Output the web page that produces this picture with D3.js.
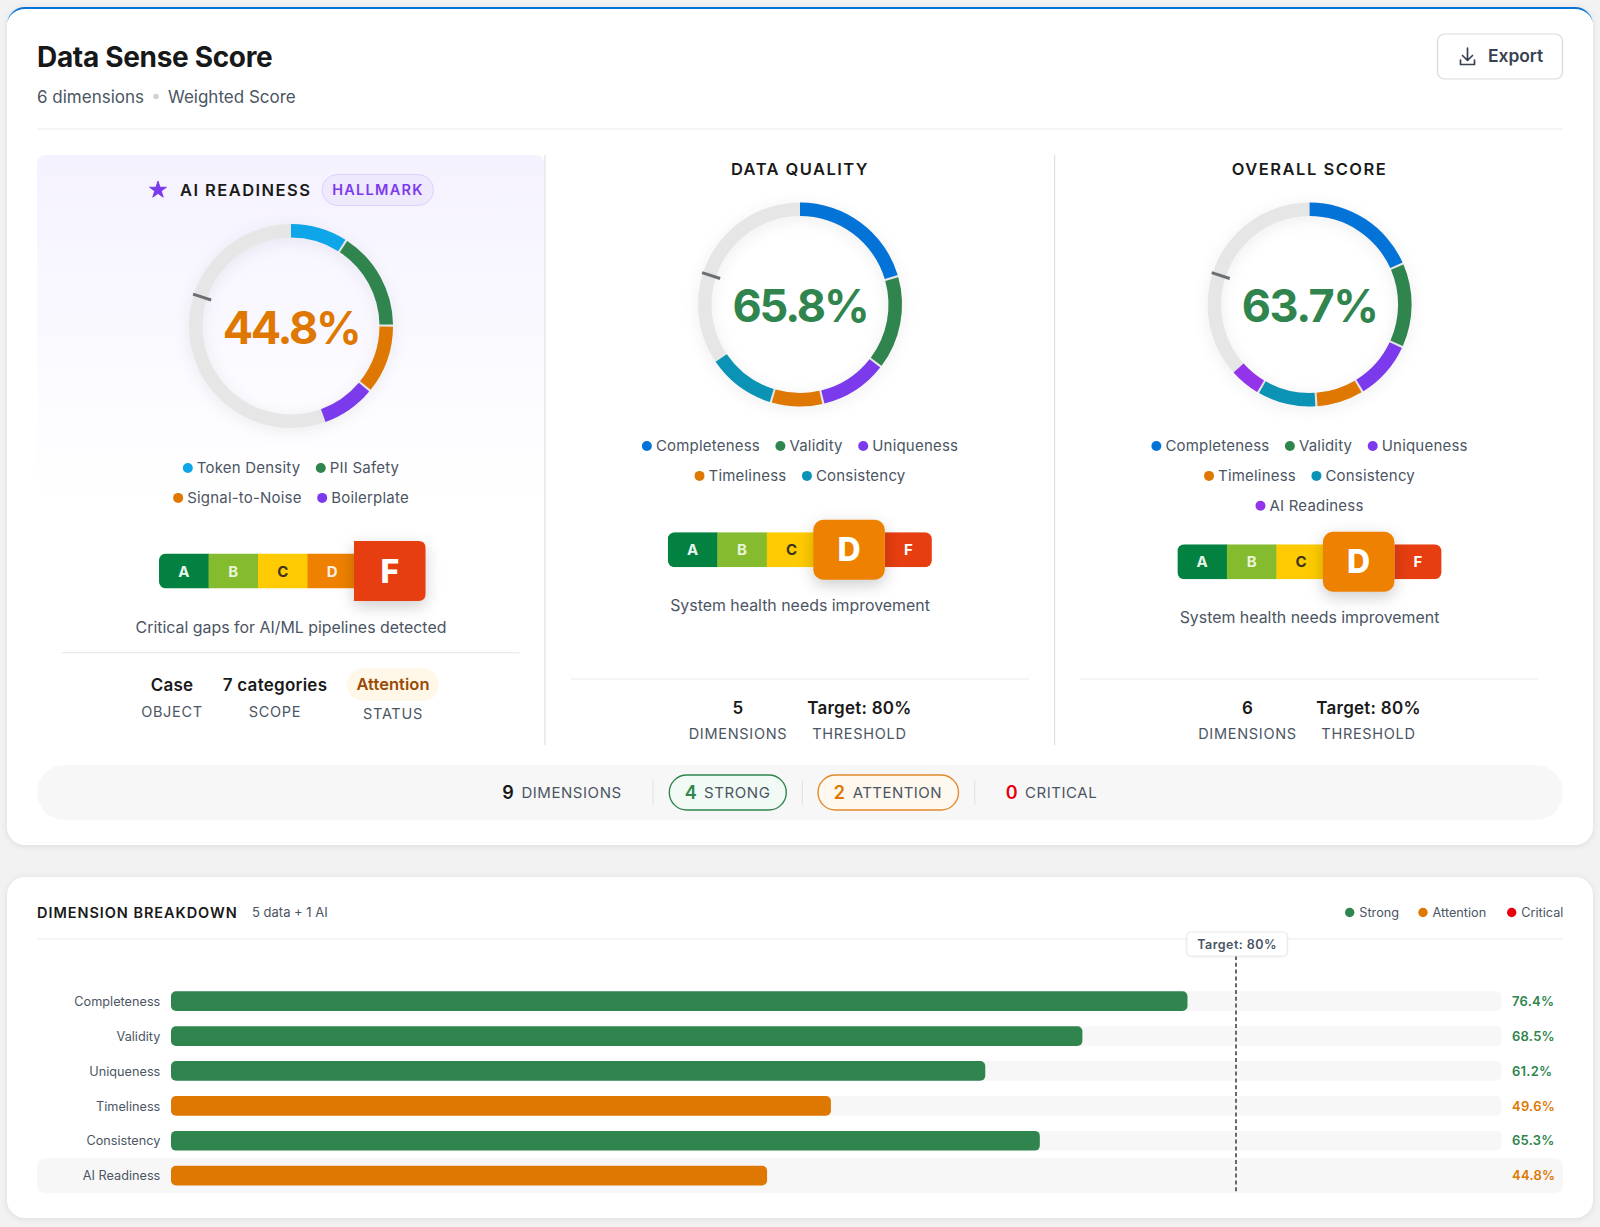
<!DOCTYPE html>
<html>
<head>
<meta charset="utf-8">
<title>Data Sense Score</title>
<script src="https://cdn.jsdelivr.net/npm/d3@7"></script>
<style>
  html, body { margin: 0; padding: 0; background: #f2f2f2; }
  svg { display: block; }
  text { font-family: Inter, "Noto Sans", sans-serif; }
</style>
</head>
<body>
<svg id="chart" width="1600" height="1227"></svg>
<script>
// values
var aiNames = ['Token Density', 'PII Safety', 'Signal-to-Noise', 'Boilerplate'];
var aiValues = [9.3, 15.8, 11.0, 8.4];
var aiColors = ['#0ea5e9', '#2f854d', '#de7802', '#7c3aed'];

var qualityNames = ['Completeness', 'Validity', 'Uniqueness', 'Timeliness', 'Consistency'];
var qualityValues = [20.7, 14.9, 10.9, 8.3, 10.7];
var qualityColors = ['#0473d7', '#2f854d', '#7c3aed', '#de7802', '#0b93b5'];

var overallNames = ['Completeness', 'Validity', 'Uniqueness', 'Timeliness', 'Consistency', 'AI Readiness'];
var overallValues = [18.6, 13.4, 9.5, 7.6, 9.5, 4.8];
var overallColors = ['#0473d7', '#2f854d', '#7c3aed', '#de7802', '#0b93b5', '#9333ea'];

var gradeLabels = ['A', 'B', 'C', 'D', 'F'];
var gradeColors = ['#038141', '#85bb2f', '#fecb02', '#ee8100', '#e63e11'];
var gradeTextColors = ['#e8f5ec', '#e8f5d8', '#3a3320', '#fdf0e0', '#fff'];

var barNames = ['Completeness', 'Validity', 'Uniqueness', 'Timeliness', 'Consistency', 'AI Readiness'];
var barValues = [76.4, 68.5, 61.2, 49.6, 65.3, 44.8];
var barStatus = ['strong', 'strong', 'strong', 'attention', 'strong', 'attention'];
var targetValue = 80;

var statusNames = ['Strong', 'Attention', 'Critical'];
var statusColors = ['#2f854d', '#de7802', '#e8000f'];

var GREEN = '#2f854d', ORANGE = '#de7802', INK = '#1a1a1a', MUTED = '#4b5563', LINE = '#ebebeb';

var svg = d3.select('#chart');
var defs = svg.append('defs');

var grad = defs.append('linearGradient').attr('id', 'aiPanel').attr('x1', 0).attr('y1', 0).attr('x2', 0).attr('y2', 1);
grad.append('stop').attr('offset', 0).attr('stop-color', '#f5f2ff');
grad.append('stop').attr('offset', 1).attr('stop-color', '#ffffff');

function label(parent, x, y, str, size, weight, fill, anchor, spacing) {
  return parent.append('text')
    .attr('x', x).attr('y', y)
    .attr('text-anchor', anchor || 'start')
    .style('font-size', size + 'px')
    .style('font-weight', weight)
    .style('letter-spacing', (spacing || 0) + 'px')
    .attr('fill', fill)
    .text(str);
}

function card(y, h) {
  svg.append('rect').attr('x', 7).attr('y', y).attr('width', 1586).attr('height', h).attr('rx', 18)
    .attr('fill', '#fff').style('filter', 'drop-shadow(0 1px 3px rgba(0,0,0,.09))');
}

/* cards */
card(7, 838);
svg.append('path').attr('d', 'M7,25 A18,18 0 0 1 25,7 H1575 A18,18 0 0 1 1593,25 A18,16 0 0 0 1575,9 H25 A18,16 0 0 0 7,25 Z').attr('fill', '#0a72d8');
card(877, 341);

/* header */
label(svg, 37, 66.5, 'Data Sense Score', 28, 700, '#17181a', 'start', -0.32);
label(svg, 37, 102.5, '6 dimensions', 17, 400, MUTED);
svg.append('circle').attr('cx', 156).attr('cy', 96.5).attr('r', 2.8).attr('fill', '#cfd3d8');
label(svg, 168, 102.5, 'Weighted Score', 17, 400, MUTED);

svg.append('rect').attr('x', 1437.5).attr('y', 34).attr('width', 125).attr('height', 45).attr('rx', 7)
  .attr('fill', '#fff').attr('stroke', '#d7d9dc').attr('stroke-width', 1.2);
svg.append('path').attr('d', 'M1467.5,48 V60 M1462.5,55.5 L1467.5,60.5 L1472.5,55.5 M1460.5,60 V64.5 H1474.5 V60')
  .attr('fill', 'none').attr('stroke', '#374151').attr('stroke-width', 1.7).attr('stroke-linejoin', 'round').attr('stroke-linecap', 'round');
label(svg, 1488, 62, 'Export', 17.4, 600, '#374151');

svg.append('line').attr('x1', 37).attr('x2', 1563).attr('y1', 129).attr('y2', 129).attr('stroke', LINE).attr('stroke-width', 1.2);

/* highlighted AI column + column rules */
svg.append('rect').attr('x', 37).attr('y', 155).attr('width', 507).attr('height', 345).attr('rx', 8).attr('fill', 'url(#aiPanel)');
[545, 1054.6].forEach(function(x) {
  svg.append('line').attr('x1', x).attr('x2', x).attr('y1', 155).attr('y2', 745).attr('stroke', '#dfe1e4').attr('stroke-width', 1.2);
});

/* score panels */
var angle = d3.scaleLinear().domain([0, 100]).range([0, 2 * Math.PI]);
var ringArc = d3.arc().innerRadius(88.5).outerRadius(102);
var SEGMENT_GAP = 0.35;

function drawRing(g, values, colors) {
  g.append('path').attr('d', ringArc({startAngle: 0, endAngle: 2 * Math.PI})).attr('fill', '#e6e6e6')
    .style('filter', 'drop-shadow(0 3px 8px rgba(0,0,0,.07))');
  var cum = 0;
  values.forEach(function(v, i) {
    var end = cum + v;
    g.append('path')
      .attr('d', ringArc({startAngle: angle(cum), endAngle: angle(end - (i < values.length - 1 ? SEGMENT_GAP : 0))}))
      .attr('fill', colors[i]);
    cum = end;
  });
  var t = angle(targetValue);
  g.append('line')
    .attr('x1', Math.sin(t) * 84).attr('y1', -Math.cos(t) * 84)
    .attr('x2', Math.sin(t) * 103).attr('y2', -Math.cos(t) * 103)
    .attr('stroke', '#6b6e73').attr('stroke-width', 3);
}

function drawLegend(cx, y0, names, colors, rows) {
  var idx = 0;
  rows.forEach(function(n, r) {
    var y = y0 + r * 29.9, g = svg.append('g'), x = 0;
    for (var k = 0; k < n; k++, idx++) {
      g.append('circle').attr('cx', x + 5).attr('cy', y).attr('r', 5).attr('fill', colors[idx]);
      var t = label(g, x + 14, y + 5.3, names[idx], 15, 400, MUTED, 'start', 0.2);
      x += 14 + t.node().getComputedTextLength() + 15.5;
    }
    g.attr('transform', 'translate(' + (cx - (x - 15.5) / 2) + ',0)');
  });
}

function drawGrades(left, midY, active) {
  var cell = 49.5, h = 35, activeW = 71.5, activeH = 60, x = left;
  var strip = svg.append('g');
  var clipId = 'strip' + Math.round(left);
  var widths = gradeLabels.map(function(d, i) { return i === active ? activeW : (i === active + 1 ? 47 : cell); });
  var total = d3.sum(widths) - 3;
  defs.append('clipPath').attr('id', clipId).append('rect')
    .attr('x', left).attr('y', midY - h / 2).attr('width', total).attr('height', h).attr('rx', 7);
  var clipped = strip.append('g').attr('clip-path', 'url(#' + clipId + ')');
  var activeBox = null;
  gradeLabels.forEach(function(d, i) {
    var w = widths[i], isActive = i === active;
    if (isActive) {
      x -= 3;
      activeBox = {x: x, w: w, d: d, i: i};
    } else {
      clipped.append('rect').attr('x', x).attr('y', midY - h / 2).attr('width', w + 0.5).attr('height', h).attr('fill', gradeColors[i]);
      label(strip, x + w / 2, midY + 5.5, d, 15, 700, gradeTextColors[i], 'middle');
    }
    x += w;
  });
  var b = activeBox;
  if (b.i === gradeLabels.length - 1) {
    // last cell: square on the left, rounded on the right
    var r = 7, t = midY - activeH / 2, bt = midY + activeH / 2, R = b.x + b.w;
    strip.append('path')
      .attr('d', 'M' + b.x + ',' + t + ' H' + (R - r) + ' Q' + R + ',' + t + ' ' + R + ',' + (t + r) + ' V' + (bt - r) + ' Q' + R + ',' + bt + ' ' + (R - r) + ',' + bt + ' H' + b.x + ' Z')
      .attr('fill', gradeColors[b.i]).style('filter', 'drop-shadow(0 5px 8px rgba(0,0,0,.2))');
  } else {
    strip.append('rect').attr('x', b.x).attr('y', midY - activeH / 2).attr('width', b.w).attr('height', activeH).attr('rx', 10)
      .attr('fill', gradeColors[b.i]).style('filter', 'drop-shadow(0 5px 8px rgba(0,0,0,.2))');
  }
  label(strip, b.x + b.w / 2, midY + 11.5, b.d, 32, 800, '#fff', 'middle');
}

function drawMeta(x, valueY, labelY, value, caption) {
  label(svg, x, valueY, value, 17, 600, INK, 'middle', 0.25);
  label(svg, x, labelY, caption, 14.5, 400, MUTED, 'middle', 0.7);
}

function drawPanel(cx, cy, values, colors, score, scoreColor, spacing) {
  var g = svg.append('g').attr('transform', 'translate(' + cx + ',' + cy + ')');
  drawRing(g, values, colors);
  label(g, 0, 17.5, score, 45, 700, scoreColor, 'middle', spacing);
}

// AI readiness
var star = d3.symbol().type(d3.symbolStar).size(88);
svg.append('path').attr('d', star()).attr('transform', 'translate(158,190)').attr('fill', '#7c3aed')
  .attr('stroke', '#7c3aed').attr('stroke-width', 1).attr('stroke-linejoin', 'round');
label(svg, 180, 196.3, 'AI READINESS', 16.5, 600, INK, 'start', 1.45);
svg.append('rect').attr('x', 322).attr('y', 174.5).attr('width', 111.5).attr('height', 31).attr('rx', 15.5)
  .attr('fill', '#efe9fe').attr('stroke', '#ddd1fb').attr('stroke-width', 1);
label(svg, 378, 195, 'HALLMARK', 14.5, 600, '#7c3aed', 'middle', 1.3);
drawPanel(291, 326, aiValues, aiColors, '44.8%', ORANGE, -2.3);
drawLegend(291, 468, aiNames, aiColors, [2, 2]);
drawGrades(159, 571, 4);
label(svg, 291, 632.5, 'Critical gaps for AI/ML pipelines detected', 15.9, 400, MUTED, 'middle');
svg.append('line').attr('x1', 61.5).attr('x2', 519.5).attr('y1', 652.7).attr('y2', 652.7).attr('stroke', LINE).attr('stroke-width', 1.2);
drawMeta(172, 690.7, 716.7, 'Case', 'OBJECT');
drawMeta(275, 690.7, 716.7, '7 categories', 'SCOPE');
svg.append('rect').attr('x', 347).attr('y', 668.3).attr('width', 92).attr('height', 32.4).attr('rx', 16.2).attr('fill', '#fff8e8');
label(svg, 393, 690, 'Attention', 16.5, 600, '#9a4a06', 'middle', 0.05);
label(svg, 393, 719.3, 'STATUS', 14.5, 400, MUTED, 'middle', 0.7);

// data quality
label(svg, 800, 175.2, 'DATA QUALITY', 16.5, 600, INK, 'middle', 1.45);
drawPanel(800, 304.5, qualityValues, qualityColors, '65.8%', GREEN, -2.1);
drawLegend(800, 446, qualityNames, qualityColors, [3, 2]);
drawGrades(667.8, 549.7, 3);
label(svg, 800, 611, 'System health needs improvement', 15.9, 400, MUTED, 'middle');
svg.append('line').attr('x1', 571).attr('x2', 1029).attr('y1', 679).attr('y2', 679).attr('stroke', LINE).attr('stroke-width', 1.2);
drawMeta(738, 713.6, 739.3, '5', 'DIMENSIONS');
drawMeta(859.4, 713.6, 739.3, 'Target: 80%', 'THRESHOLD');

// overall
label(svg, 1309.5, 175.2, 'OVERALL SCORE', 16.5, 600, INK, 'middle', 1.5);
drawPanel(1309.6, 304.5, overallValues, overallColors, '63.7%', GREEN, -1.5);
drawLegend(1309.5, 446, overallNames, overallColors, [3, 2, 1]);
drawGrades(1177.4, 561.8, 3);
label(svg, 1309.5, 623, 'System health needs improvement', 15.9, 400, MUTED, 'middle');
svg.append('line').attr('x1', 1080).attr('x2', 1538).attr('y1', 679).attr('y2', 679).attr('stroke', LINE).attr('stroke-width', 1.2);
drawMeta(1247.5, 713.6, 739.3, '6', 'DIMENSIONS');
drawMeta(1368.5, 713.6, 739.3, 'Target: 80%', 'THRESHOLD');

/* summary strip */
svg.append('rect').attr('x', 37).attr('y', 765).attr('width', 1526).attr('height', 55).attr('rx', 27.5).attr('fill', '#f7f7f7');
[653, 802.4, 974.8].forEach(function(x) {
  svg.append('line').attr('x1', x).attr('x2', x).attr('y1', 780).attr('y2', 805).attr('stroke', '#dfe1e4').attr('stroke-width', 1);
});
svg.append('rect').attr('x', 669.3).attr('y', 775).attr('width', 117).attr('height', 35).attr('rx', 17.5).attr('fill', '#f1faf4').attr('stroke', GREEN).attr('stroke-width', 1.4);
svg.append('rect').attr('x', 818).attr('y', 775).attr('width', 140.5).attr('height', 35).attr('rx', 17.5).attr('fill', '#fff8ef').attr('stroke', '#e4892b').attr('stroke-width', 1.4);
label(svg, 508, 798.5, '9', 18, 600, INK, 'middle');
label(svg, 521.4, 797.5, 'DIMENSIONS', 15, 400, MUTED, 'start', 0.55);
label(svg, 690.7, 798.5, '4', 18, 600, GREEN, 'middle');
label(svg, 704, 797.5, 'STRONG', 15, 400, MUTED, 'start', 0.6);
label(svg, 839.4, 798.5, '2', 18, 600, ORANGE, 'middle');
label(svg, 852.7, 797.5, 'ATTENTION', 15, 400, MUTED, 'start', 0.45);
label(svg, 1011.7, 798.5, '0', 18, 600, '#e8000f', 'middle');
label(svg, 1025, 797.5, 'CRITICAL', 15, 400, MUTED, 'start', 0.55);

/* dimension breakdown */
label(svg, 37, 918, 'DIMENSION BREAKDOWN', 14.5, 600, INK, 'start', 0.95);
label(svg, 252, 917.3, '5 data + 1 AI', 13, 400, MUTED, 'start', 0);
var statusX = [1349.7, 1423, 1511.7];
statusNames.forEach(function(d, i) {
  svg.append('circle').attr('cx', statusX[i]).attr('cy', 912.5).attr('r', 4.7).attr('fill', statusColors[i]);
  label(svg, statusX[i] + 9.6, 917.2, d, 12.7, 400, MUTED, 'start', 0);
});
svg.append('line').attr('x1', 37).attr('x2', 1563).attr('y1', 939).attr('y2', 939).attr('stroke', LINE).attr('stroke-width', 1.2);

var x = d3.scaleLinear().domain([0, 100]).range([171, 1501.5]);
var y = d3.scaleBand().domain(barNames).range([991.3, 1185.5]).paddingInner(0.4355);
var barColor = d3.scaleOrdinal().domain(['strong', 'attention']).range([GREEN, ORANGE]);

// last row sits on a tinted band
var lastRow = y(barNames[barNames.length - 1]);
svg.append('rect').attr('x', 37).attr('y', lastRow - 7.6).attr('width', 1526).attr('height', 35).attr('rx', 8).attr('fill', '#f7f7f7');

var rows = svg.selectAll('.row').data(barNames).enter().append('g').attr('class', 'row');
rows.append('rect').attr('x', x(0)).attr('y', function(d) { return y(d); })
  .attr('width', x(100) - x(0)).attr('height', y.bandwidth()).attr('rx', 5)
  .attr('fill', function(d, i) { return i === barNames.length - 1 ? 'none' : '#f7f7f7'; });
rows.append('rect').attr('x', x(0)).attr('y', function(d) { return y(d); })
  .attr('width', function(d, i) { return x(barValues[i]) - x(0); }).attr('height', y.bandwidth()).attr('rx', 5)
  .attr('fill', function(d, i) { return barColor(barStatus[i]); });
rows.append('text').attr('x', 160.3).attr('y', function(d) { return y(d) + y.bandwidth() / 2 + 4.7; })
  .attr('text-anchor', 'end').style('font-size', '12.7px').attr('fill', MUTED)
  .text(function(d) { return d; });
rows.append('text').attr('x', 1512).attr('y', function(d) { return y(d) + y.bandwidth() / 2 + 4.7; })
  .style('font-size', '13px').style('font-weight', 600).style('letter-spacing', '0.25px')
  .attr('fill', function(d, i) { return barColor(barStatus[i]); })
  .text(function(d, i) { return barValues[i].toFixed(1) + '%'; });

svg.append('line').attr('x1', x(targetValue) + 0.6).attr('x2', x(targetValue) + 0.6).attr('y1', 956).attr('y2', 1192.7)
  .attr('stroke', '#666a70').attr('stroke-width', 2).attr('stroke-dasharray', '4 2.8');
svg.append('rect').attr('x', x(targetValue) - 48.5).attr('y', 932).attr('width', 100.4).attr('height', 24).attr('rx', 4)
  .attr('fill', '#fff').attr('stroke', '#e8e8e8').style('filter', 'drop-shadow(0 1px 1px rgba(0,0,0,.05))');
label(svg, x(targetValue) + 1.7, 949, 'Target: ' + targetValue + '%', 12.5, 600, MUTED, 'middle', 0.45);
</script>
</body>
</html>
